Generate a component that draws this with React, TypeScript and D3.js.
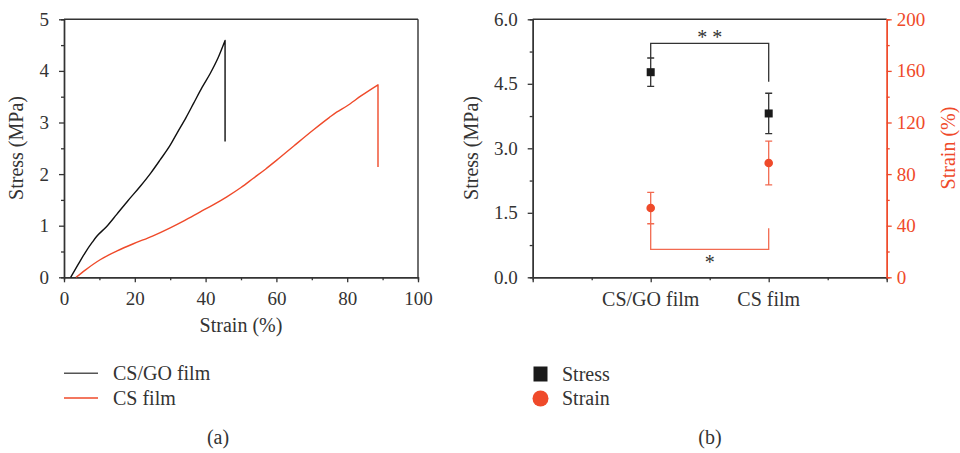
import React, { useEffect, useRef } from 'react';
import * as d3 from 'd3';

// (a) stress-strain curves (last point = the fracture drop)
const csgoStrain = [1.9, 4, 6, 8, 9.2, 12, 14.9, 18, 21.5, 24.5, 27.1, 30, 31.9, 34.5, 36.6, 39, 41.3, 43.5, 45.5, 45.5];
const csgoStress = [0, 0.25, 0.48, 0.68, 0.79, 0.98, 1.22, 1.48, 1.76, 2.02, 2.27, 2.56, 2.79, 3.1, 3.37, 3.68, 3.95, 4.25, 4.59, 2.63];
const csStrain = [3.4, 6, 10.2, 15, 19.6, 25, 30, 34, 38.5, 42, 46, 50, 53.5, 57, 60.1, 65, 70.5, 75, 77, 79.9, 84, 88.7, 88.7];
const csStress = [0, 0.14, 0.34, 0.51, 0.65, 0.8, 0.96, 1.1, 1.27, 1.4, 1.56, 1.74, 1.92, 2.1, 2.27, 2.55, 2.86, 3.1, 3.2, 3.32, 3.52, 3.73, 2.14];

// (b) mean values with error bars
const groups = ['CS/GO film', 'CS film'];
const stressMean = [4.77, 3.81];
const stressErr = [0.33, 0.47];
const strainMean = [53.7, 88.6];
const strainErr = [12.2, 17];

const stressTicks = [0, 1.5, 3.0, 4.5, 6.0];
const strainTicks = [0, 40, 80, 120, 160, 200];

const DARK = '#333';
const RED = '#ef4a2a';
const FONT = '"Liberation Serif", "Times New Roman", serif';

export default function App() {
  const ref = useRef<SVGSVGElement>(null);

  useEffect(() => {
    const svg = d3.select(ref.current);
    svg.selectAll('*').remove();

    const top = 19.3, bottom = 277.3;

    const styleAxis = (g: any, color: string) => {
      g.select('.domain').attr('stroke', color).attr('stroke-width', 1.4);
      g.selectAll('.tick line').attr('stroke', color).attr('stroke-width', 1.3);
      g.selectAll('.tick text').attr('fill', color).attr('font-size', 19).attr('font-family', FONT);
    };

    // ---------- panel (a) ----------
    const xa = d3.scaleLinear().domain([0, 100]).range([64, 418]);
    const ya = d3.scaleLinear().domain([0, 5]).range([bottom, top]);
    const pa = svg.append('g');

    pa.append('line').attr('x1', xa(0)).attr('x2', xa(100)).attr('y1', top).attr('y2', top)
      .attr('stroke', DARK).attr('stroke-width', 1.4);
    pa.append('line').attr('x1', xa(100)).attr('x2', xa(100)).attr('y1', top).attr('y2', bottom)
      .attr('stroke', DARK).attr('stroke-width', 1.4);

    pa.append('g').attr('transform', `translate(0,${bottom})`)
      .call(d3.axisBottom(xa).tickValues([10, 30, 50, 70, 90]).tickSize(3).tickFormat(() => ''))
      .call(g => styleAxis(g, DARK));
    pa.append('g').attr('transform', `translate(0,${bottom})`)
      .call(d3.axisBottom(xa).tickValues([0, 20, 40, 60, 80, 100]).tickSize(5).tickSizeOuter(0).tickPadding(9))
      .call(g => styleAxis(g, DARK));
    pa.append('g').attr('transform', `translate(${xa(0)},0)`)
      .call(d3.axisLeft(ya).tickValues([0.5, 1.5, 2.5, 3.5, 4.5]).tickSize(3).tickFormat(() => ''))
      .call(g => styleAxis(g, DARK));
    pa.append('g').attr('transform', `translate(${xa(0)},0)`)
      .call(d3.axisLeft(ya).tickValues([0, 1, 2, 3, 4, 5]).tickSize(5).tickSizeOuter(0).tickPadding(10).tickFormat(d3.format('d')))
      .call(g => styleAxis(g, DARK));

    // smooth rising part + straight vertical drop at fracture
    const drawCurve = (xs: number[], ys: number[], color: string) => {
      const n = xs.length - 1;
      const pts: [number, number][] = xs.slice(0, n).map((x, i) => [xa(x), ya(ys[i])]);
      const smooth = d3.line().curve(d3.curveMonotoneX)(pts) as string;
      pa.append('path')
        .attr('d', `${smooth}L${xa(xs[n])},${ya(ys[n])}`)
        .attr('fill', 'none').attr('stroke', color).attr('stroke-width', 1.4)
        .attr('stroke-linejoin', 'round');
    };
    drawCurve(csStrain, csStress, RED);
    drawCurve(csgoStrain, csgoStress, '#111');

    pa.append('text').attr('x', 241).attr('y', 332).attr('text-anchor', 'middle')
      .attr('font-size', 20).attr('font-family', FONT).attr('fill', DARK).text('Strain (%)');
    pa.append('text').attr('transform', `translate(23,148) rotate(-90)`).attr('text-anchor', 'middle')
      .attr('font-size', 20).attr('font-family', FONT).attr('fill', DARK).text('Stress (MPa)');

    // legend (a)
    const legA = [
      { label: 'CS/GO film', color: '#555' },
      { label: 'CS film', color: RED },
    ];
    legA.forEach((d, i) => {
      const y = 373.3 + i * 24.7;
      svg.append('line').attr('x1', 64).attr('x2', 98).attr('y1', y).attr('y2', y)
        .attr('stroke', d.color).attr('stroke-width', 1.6);
      svg.append('text').attr('x', 113).attr('y', y + 6.5).attr('font-size', 20)
        .attr('font-family', FONT).attr('fill', DARK).text(d.label);
    });
    svg.append('text').attr('x', 218).attr('y', 444).attr('text-anchor', 'middle')
      .attr('font-size', 20).attr('font-family', FONT).attr('fill', DARK).text('(a)');

    // ---------- panel (b) ----------
    const xb = d3.scaleLinear().domain([0, 3]).range([532.7, 886.7]);
    const yb = d3.scaleLinear().domain([0, 6]).range([bottom, top]);
    const yr = d3.scaleLinear().domain([0, 200]).range([bottom, top]);
    const pb = svg.append('g');

    pb.append('line').attr('x1', xb(0)).attr('x2', xb(3)).attr('y1', top).attr('y2', top)
      .attr('stroke', DARK).attr('stroke-width', 1.4);

    pb.append('g').attr('transform', `translate(0,${bottom})`)
      .call(d3.axisBottom(xb).tickValues([0.5, 1.5, 2.5]).tickSize(3).tickFormat(() => ''))
      .call(g => styleAxis(g, DARK));
    pb.append('g').attr('transform', `translate(0,${bottom})`)
      .call(d3.axisBottom(xb).tickValues([0, 1, 2, 3]).tickSize(5).tickSizeOuter(0).tickFormat(() => ''))
      .call(g => styleAxis(g, DARK));
    groups.forEach((g, i) => {
      pb.append('text').attr('x', xb(i + 1)).attr('y', 305.5).attr('text-anchor', 'middle')
        .attr('font-size', 20).attr('font-family', FONT).attr('fill', DARK).text(g);
    });

    pb.append('g').attr('transform', `translate(${xb(0)},0)`)
      .call(d3.axisLeft(yb).tickValues([0.75, 2.25, 3.75, 5.25]).tickSize(3).tickFormat(() => ''))
      .call(g => styleAxis(g, DARK));
    pb.append('g').attr('transform', `translate(${xb(0)},0)`)
      .call(d3.axisLeft(yb).tickValues(stressTicks).tickSize(5).tickSizeOuter(0).tickPadding(10).tickFormat(d3.format('.1f')))
      .call(g => styleAxis(g, DARK));

    pb.append('g').attr('transform', `translate(${xb(3)},0)`)
      .call(d3.axisRight(yr).tickValues([20, 60, 100, 140, 180]).tickSize(3).tickFormat(() => ''))
      .call(g => styleAxis(g, RED));
    pb.append('g').attr('transform', `translate(${xb(3)},0)`)
      .call(d3.axisRight(yr).tickValues(strainTicks).tickSize(5).tickSizeOuter(0).tickPadding(5).tickFormat(d3.format('d')))
      .call(g => styleAxis(g, RED));

    pb.append('text').attr('transform', `translate(478,148) rotate(-90)`).attr('text-anchor', 'middle')
      .attr('font-size', 20).attr('font-family', FONT).attr('fill', DARK).text('Stress (MPa)');
    pb.append('text').attr('transform', `translate(955,148) rotate(-90)`).attr('text-anchor', 'middle')
      .attr('font-size', 20).attr('font-family', FONT).attr('fill', RED).text('Strain (%)');

    // significance brackets
    const x1 = xb(1), x2 = xb(2);
    pb.append('path')
      .attr('d', `M${x1},${yb(stressMean[0] + stressErr[0])}V${yb(5.44)}H${x2}V${yb(4.55)}`)
      .attr('fill', 'none').attr('stroke', DARK).attr('stroke-width', 1.3);
    pb.append('text').attr('x', (x1 + x2) / 2).attr('y', 44).attr('text-anchor', 'middle')
      .attr('font-size', 20).attr('font-family', FONT).attr('fill', DARK).text('* *');
    pb.append('path')
      .attr('d', `M${x1},${yr(strainMean[0] - strainErr[0])}V${yr(21.7)}H${x2}V${yr(38)}`)
      .attr('fill', 'none').attr('stroke', '#f26a50').attr('stroke-width', 1.3);
    pb.append('text').attr('x', (x1 + x2) / 2).attr('y', 269).attr('text-anchor', 'middle')
      .attr('font-size', 20).attr('font-family', FONT).attr('fill', DARK).text('*');

    // error bars and markers
    const cap = 3.5;
    groups.forEach((_, i) => {
      const x = xb(i + 1);
      const sLo = yr(strainMean[i] - strainErr[i]), sHi = yr(strainMean[i] + strainErr[i]);
      pb.append('path').attr('d', `M${x},${sLo}V${sHi}M${x - cap},${sLo}H${x + cap}M${x - cap},${sHi}H${x + cap}`)
        .attr('stroke', '#f26a50').attr('stroke-width', 1.3).attr('fill', 'none');
      pb.append('circle').attr('cx', x).attr('cy', yr(strainMean[i])).attr('r', 4.3).attr('fill', RED);

      const tLo = yb(stressMean[i] - stressErr[i]), tHi = yb(stressMean[i] + stressErr[i]);
      pb.append('path').attr('d', `M${x},${tLo}V${tHi}M${x - cap},${tLo}H${x + cap}M${x - cap},${tHi}H${x + cap}`)
        .attr('stroke', DARK).attr('stroke-width', 1.3).attr('fill', 'none');
      pb.append('rect').attr('x', x - 4).attr('y', yb(stressMean[i]) - 4).attr('width', 8).attr('height', 8)
        .attr('fill', '#1a1a1a');
    });

    // legend (b)
    svg.append('rect').attr('x', 533.5).attr('y', 366.5).attr('width', 14).attr('height', 15).attr('fill', '#1a1a1a');
    svg.append('text').attr('x', 562).attr('y', 380.5).attr('font-size', 20)
      .attr('font-family', FONT).attr('fill', DARK).text('Stress');
    svg.append('ellipse').attr('cx', 540.5).attr('cy', 398.5).attr('rx', 8).attr('ry', 8).attr('fill', RED);
    svg.append('text').attr('x', 562).attr('y', 405).attr('font-size', 20)
      .attr('font-family', FONT).attr('fill', DARK).text('Strain');
    svg.append('text').attr('x', 710).attr('y', 444).attr('text-anchor', 'middle')
      .attr('font-size', 20).attr('font-family', FONT).attr('fill', DARK).text('(b)');
  }, []);

  return (
    <svg ref={ref} width={960} height={453}
      style={{ position: 'absolute', left: 0, top: 0, background: '#fff' }} />
  );
}
